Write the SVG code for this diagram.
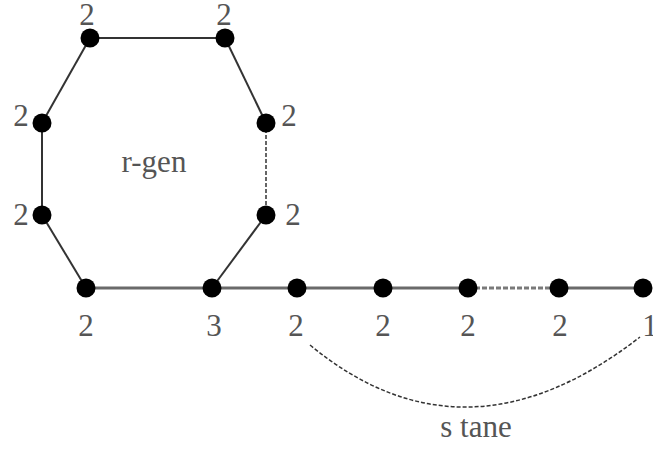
<svg xmlns="http://www.w3.org/2000/svg" width="653" height="450" viewBox="0 0 653 450">
<style>
.e{stroke:#333;stroke-width:2;fill:none}
.h{stroke:#6a6a6a;stroke-width:3;fill:none}
.d{stroke:#333;stroke-width:1.5;stroke-dasharray:4 2;fill:none}
.hd{stroke:#7a7a7a;stroke-width:3;stroke-dasharray:5 2;fill:none}
.n{fill:#000}
text{font-family:"Liberation Serif","Times New Roman",serif;font-size:31px;fill:#555}
.c{text-anchor:middle}
</style>
<rect width="653" height="450" fill="#fff"/>
<g id="connectors">
<line class="e" x1="90" y1="38" x2="225" y2="38"/>
<line class="e" x1="90" y1="38" x2="42" y2="123"/>
<line class="e" x1="42" y1="123" x2="42" y2="215"/>
<line class="e" x1="42" y1="215" x2="86" y2="288"/>
<line class="h" x1="86" y1="288" x2="212" y2="288"/>
<line class="e" x1="225" y1="38" x2="266" y2="123"/>
<line class="d" x1="266" y1="123" x2="266" y2="215"/>
<line class="e" x1="266" y1="215" x2="212" y2="288"/>
<line class="h" x1="212" y1="288" x2="468" y2="288"/>
<line class="hd" x1="468" y1="288" x2="559" y2="288"/>
<line class="h" x1="559" y1="288" x2="643" y2="288"/>
<path class="d" d="M310 345 Q465 473 640 337"/>
</g>
<g id="n1"><circle class="n" cx="90" cy="38" r="9.5"/><text class="c" x="87" y="25">2</text></g>
<g id="n2"><circle class="n" cx="225" cy="38" r="9.5"/><text class="c" x="224" y="25">2</text></g>
<g id="n3"><circle class="n" cx="42" cy="123" r="9.5"/><text class="c" x="21" y="126">2</text></g>
<g id="n4"><circle class="n" cx="266" cy="123" r="9.5"/><text class="c" x="289" y="126">2</text></g>
<g id="n5"><circle class="n" cx="42" cy="215" r="9.5"/><text class="c" x="21" y="225">2</text></g>
<g id="n6"><circle class="n" cx="266" cy="215" r="9.5"/><text class="c" x="293" y="225">2</text></g>
<g id="n7"><circle class="n" cx="86" cy="288" r="9.5"/><text class="c" x="86" y="336">2</text></g>
<g id="n8"><circle class="n" cx="212" cy="288" r="9.5"/><text class="c" x="214" y="336">3</text></g>
<g id="n9"><circle class="n" cx="297" cy="288" r="9.5"/><text class="c" x="296" y="336">2</text></g>
<g id="n10"><circle class="n" cx="383" cy="288" r="9.5"/><text class="c" x="383" y="336">2</text></g>
<g id="n11"><circle class="n" cx="468" cy="288" r="9.5"/><text class="c" x="468" y="336">2</text></g>
<g id="n12"><circle class="n" cx="559" cy="288" r="9.5"/><text class="c" x="560" y="336">2</text></g>
<g id="n13"><circle class="n" cx="643" cy="288" r="9.5"/><text class="c" x="650" y="336">1</text></g>
<text id="rgen" class="c" x="154" y="172">r-gen</text>
<text id="stane" class="c" x="476" y="437">s tane</text>
</svg>
